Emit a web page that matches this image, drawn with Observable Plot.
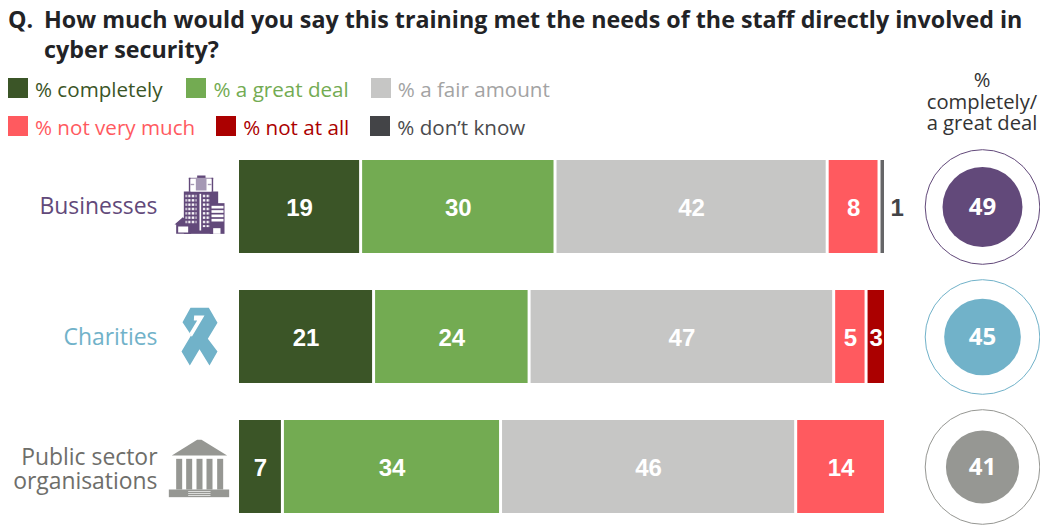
<!DOCTYPE html>
<html lang="en">
<head>
<meta charset="utf-8">
<script src="https://cdn.jsdelivr.net/npm/d3@7"></script>
<script src="https://cdn.jsdelivr.net/npm/@observablehq/plot@0.6"></script>
<style>
  html, body { margin: 0; background: #fff; overflow: hidden; }
  body { width: 1040px; height: 527px; font-family: "Open Sans", sans-serif; }
  #head { position: relative; height: 140px; }
  #question { position: absolute; left: 8px; top: 4px; font-size: 23.25px; font-weight: 700; line-height: 30px; color: #222326; white-space: nowrap; }
  #question span { display: inline-block; width: 36px; }
  #question div { margin-left: 36px; }
  .legend-row { position: absolute; left: 8px; display: flex; font-size: 20.6px; line-height: 26px; white-space: nowrap; }
  .legend-row > div { display: flex; align-items: center; gap: 7px; }
  .legend-row i { display: block; width: 20px; height: 20px; }
  .legend-row span { position: relative; top: 1px; }
  #share-head { position: absolute; left: 924px; width: 116px; top: 69px; text-align: center; font-size: 20.2px; line-height: 21.5px; color: #333; white-space: nowrap; }
  #charts { display: flex; }
  #charts svg { display: block; overflow: visible; }
</style>
</head>
<body>
<div id="head">
  <div id="question"><span>Q.</span>How much would you say this training met the needs of the staff directly involved in<div>cyber security?</div></div>
  <div id="share-head">%<br>completely/<br>a great deal</div>
</div>
<div id="charts"></div>
<script>
const sectors = ["Businesses", "Charities", "Public sector\norganisations"];
const responses = ["% completely", "% a great deal", "% a fair amount", "% not very much", "% not at all", "% don\u2019t know"];
const barColors = ["#3b5527", "#73ab52", "#c6c6c5", "#ff5a5f", "#ab0000", "#666668"];
const swatchColors = ["#3b5527", "#73ab52", "#c6c6c5", "#ff5a5f", "#ab0000", "#434447"];
const legendTextColors = ["#3b5527", "#73ab52", "#a3a3a3", "#ff5a5f", "#ab0000", "#4b4b4e"];

const completely = [19, 21, 7];
const greatDeal = [30, 24, 34];
const fairAmount = [42, 47, 46];
const notVeryMuch = [8, 5, 14];
const notAtAll = [null, 3, null];
const dontKnow = [1, null, null];
const combined = [49, 45, 41];

const sectorColors = ["#62497a", "#71b2c9", "#969793"];
const sectorTextColors = ["#62497a", "#71b2c9", "#6e6e6a"];

const responseSeries = [completely, greatDeal, fairAmount, notVeryMuch, notAtAll, dontKnow];
const rows = responses.flatMap((response, i) =>
  sectors.map((sector, j) => ({sector, response, value: responseSeries[i][j]})).filter((d) => d.value != null)
);
const summary = sectors.map((sector, j) => ({sector, value: combined[j]}));

// Small pictograms, drawn on a 3-units-per-pixel grid
const svgUri = (viewBox, body) =>
  "data:image/svg+xml," + encodeURIComponent(`<svg xmlns="http://www.w3.org/2000/svg" viewBox="${viewBox}">${body}</svg>`);

const buildingIcon = svgUri("498 70.5 198 198", `
  <defs><pattern id="w" width="11" height="13" patternUnits="userSpaceOnUse"><rect width="11" height="13" fill="#62497a"/><rect x="2" y="3" width="7" height="7" fill="#fff"/></pattern></defs>
  <g fill="#62497a">
    <rect x="590" y="75" width="25" height="9"/>
    <rect x="565" y="82" width="73" height="4"/>
    <rect x="565" y="82" width="5" height="42"/><rect x="633" y="82" width="5" height="42"/>
    <rect x="550" y="123" width="103" height="127"/>
    <rect x="628" y="158" width="44" height="92"/>
    <path d="M522 222 L547 200 L572 222 L572 250 L527 250 L527 222 Z"/>
  </g>
  <rect x="570" y="84" width="63" height="39" fill="#fff"/>
  <rect x="586" y="82" width="32" height="38" fill="#a598b4"/>
  <rect x="570" y="100" width="11" height="4" fill="#a598b4"/><rect x="622" y="100" width="11" height="4" fill="#a598b4"/>
  <rect x="555" y="130" width="33" height="92" fill="url(#w)"/>
  <rect x="606" y="130" width="22" height="100" fill="url(#w)"/>
  <rect x="597" y="130" width="5" height="110" fill="#fff"/>
  <g fill="#fff">
    <rect x="633" y="166" width="36" height="8"/><rect x="633" y="179" width="36" height="8"/>
    <rect x="633" y="192" width="36" height="8"/><rect x="633" y="205" width="36" height="8"/>
    <rect x="638" y="233" width="22" height="17"/>
    <rect x="533" y="228" width="30" height="18"/>
  </g>`);

const ribbonIcon = svgUri("498 100.5 198 198", `
  <path fill="#71b2c9" d="M570 112 L625 112 L651 157 L622 205 L651 243 L627 285 L597 236 L568 285 L543 243 L572 194 L546 155 Z"/>
  <path fill="#fff" d="M581 135 L612 135 L574 199 L567 188 L590 150 L580 150 Z"/>`);

const templeIcon = svgUri("498 490.5 198 198", `
  <g fill="#969793">
    <path d="M514 555 L590 508 L603 508 L680 555 Z"/>
    <rect x="527" y="565" width="18" height="92"/><rect x="557" y="565" width="18" height="92"/>
    <rect x="588" y="565" width="18" height="92"/><rect x="618" y="565" width="18" height="92"/>
    <rect x="650" y="565" width="18" height="92"/>
    <rect x="505" y="657" width="181" height="23"/>
  </g>
  <g fill="#fff">
    <rect x="563" y="662" width="67" height="2"/><rect x="563" y="668" width="67" height="2"/><rect x="563" y="674" width="67" height="2"/>
  </g>`);

const icons = [buildingIcon, ribbonIcon, templeIcon];
const sectorIcons = sectors.map((sector, j) => ({sector, src: icons[j]}));

// Rows: shared band layout for both panels
const yScale = {type: "band", domain: sectors, range: [20, 373], paddingInner: 37 / 130, paddingOuter: 0, round: false, axis: null};
const chartHeight = 387;

const stack = {x: "value", y: "sector", z: "response", order: responses, offset: "normalize"};

// Each row label gets its own small vertical nudge
const labelNudges = [-1, 0.5, 2.5];

const bars = Plot.plot({
  width: 924,
  height: chartHeight,
  marginLeft: 239,
  marginRight: 37,
  marginTop: 0,
  marginBottom: 0,
  style: {fontFamily: "'Open Sans', sans-serif", background: "transparent"},
  x: {domain: [0, 1], axis: null},
  y: yScale,
  color: {domain: responses, range: barColors},
  marks: [
    sectors.map((sector, j) => Plot.axisY({
      ticks: [sector],
      anchor: "left",
      tickSize: 0,
      tickPadding: 82,
      fontSize: 22.9,
      lineHeight: 1.05,
      label: null,
      dy: labelNudges[j],
      fill: sectorTextColors[j],
      tickFormat: (d) => d
    })),
    Plot.image(sectorIcons, {y: "sector", src: "src", frameAnchor: "left", dx: -40, width: 66, height: 66}),
    Plot.barX(rows, {...stack, fill: "response", insetRight: 3}),
    // Values inside their segments
    Plot.text(rows, Plot.stackX({
      ...stack,
      text: (d) => (d.value > 1 ? d.value : null),
      fill: "#fff",
      fontFamily: "'Liberation Sans', sans-serif",
      fontWeight: 700,
      fontSize: 24,
      dx: -1.5,
      dy: 1
    })),
    // The smallest segment is too thin, so its value sits beside it
    Plot.text(rows, Plot.stackX({
      ...stack,
      text: (d) => (d.value <= 1 ? d.value : null),
      fill: "#434447",
      fontFamily: "'Liberation Sans', sans-serif",
      fontWeight: 700,
      fontSize: 24,
      dx: 13,
      dy: 1
    }))
  ]
});

const circles = Plot.plot({
  width: 116,
  height: chartHeight,
  margin: 0,
  style: {fontFamily: "'Open Sans', sans-serif", background: "transparent"},
  y: yScale,
  r: {type: "sqrt", domain: [0, 49], range: [0, 40]},
  marks: [
    Plot.dot(summary, {y: "sector", frameAnchor: "middle", r: 57.3, fill: "none", stroke: (d) => sectorColors[sectors.indexOf(d.sector)], strokeWidth: 1}),
    Plot.dot(summary, {y: "sector", frameAnchor: "middle", r: "value", fill: (d) => sectorColors[sectors.indexOf(d.sector)]}),
    Plot.text(summary, {y: "sector", frameAnchor: "middle", text: "value", fill: "#fff", fontWeight: 700, fontSize: 24})
  ]
});

document.getElementById("charts").append(bars, circles);

// Legend rows above the bars
const head = document.getElementById("head");
[[0, 3, 75, [24, 22]], [3, 6, 113, [21, 21]]].forEach(([from, to, top, gaps]) => {
  const row = document.createElement("div");
  row.className = "legend-row";
  row.style.top = top + "px";
  for (let i = from; i < to; i++) {
    const item = document.createElement("div");
    if (i > from) item.style.marginLeft = gaps[i - from - 1] + "px";
    const swatch = document.createElement("i");
    swatch.style.background = swatchColors[i];
    const label = document.createElement("span");
    label.textContent = responses[i];
    label.style.color = legendTextColors[i];
    item.append(swatch, label);
    row.append(item);
  }
  head.append(row);
});
</script>
</body>
</html>
